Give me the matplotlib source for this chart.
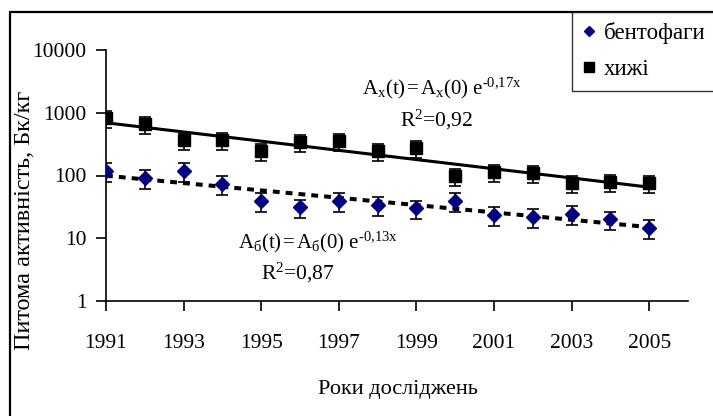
import numpy as np
import matplotlib
matplotlib.use("Agg")
import matplotlib.pyplot as plt
from matplotlib.lines import Line2D
from matplotlib.patches import Rectangle

plt.rcParams['font.family'] = ['Liberation Serif', 'DejaVu Serif']
plt.rcParams['mathtext.fontset'] = 'custom'
plt.rcParams['mathtext.rm'] = 'Liberation Serif'
plt.rcParams['mathtext.it'] = 'Liberation Serif:italic'

# data
years = np.arange(1991, 2006)
bentofagy = [118, 91, 118, 73, 39, 31, 39, 34, 30, 39, 23.5, 22, 24.5, 20, 14.5]
khyzhi = [825, 665, 368, 368, 245, 340, 350, 245, 275, 98, 114, 109, 76, 79, 76]
err_bentofagy = 0.33   # relative error bars
err_khyzhi = 0.30
legend_labels = ['бентофаги', 'хижі']
xticks = [1991, 1993, 1995, 1997, 1999, 2001, 2003, 2005]
yticks = [1, 10, 100, 1000, 10000]

fig = plt.figure(figsize=(7.13, 4.16), dpi=100)
ax = fig.add_axes([106 / 713, 1 - 301 / 416, (688 - 106) / 713, (301 - 50) / 416])

b = np.array(bentofagy)
k = np.array(khyzhi)

ax.errorbar(years, k, yerr=err_khyzhi * k, fmt='s', color='black', ms=8,
            ecolor='black', elinewidth=1.2, capsize=4.5, capthick=1.2, zorder=4)
ax.errorbar(years, b, yerr=err_bentofagy * b, fmt='D', color='#000080', ms=7,
            ecolor='black', elinewidth=1.2, capsize=4.5, capthick=1.2, zorder=4)

# exponential trend lines fitted to the data
t = years - 1990
for vals, ls, lw in [(k, '-', 2.2), (b, (0, (1.7, 1.5)), 2.9)]:
    slope, icpt = np.polyfit(t, np.log(vals), 1)
    ax.plot(years, np.exp(icpt + slope * t), color='black', lw=lw,
            linestyle=ls, zorder=3)

ax.set_yscale('log')
ax.set_ylim(1, 10000)
ax.set_xlim(1991, 2006)
ax.set_xticks(xticks)
ax.set_xticklabels([str(x) for x in xticks])
ax.set_yticks(yticks)
ax.set_yticklabels([str(y) for y in yticks])
ax.minorticks_off()
ax.tick_params(axis='both', direction='out', length=7, width=1.2, labelsize=15.5)
ax.tick_params(axis='x', pad=17)
ax.tick_params(axis='y', pad=7)
for s in ['top', 'right']:
    ax.spines[s].set_visible(False)
for s in ['left', 'bottom']:
    ax.spines[s].set_linewidth(1.2)

ax.set_ylabel('Питома активність, Бк/кг', fontsize=17.5)
ax.yaxis.set_label_coords(-0.122, 0.32)
ax.set_xlabel('Роки досліджень', fontsize=16)
ax.xaxis.set_label_coords(0.5009, -0.315)

hs = '\u200a'
fig.text(362 / 713, 1 - 88 / 416,
         r'A$_\mathregular{x}$(t)' + hs + '=' + hs +
         r'A$_\mathregular{x}$(0) e$^{\text{-0,17x}}$',
         fontsize=15, ha='left', va='center')
fig.text(437 / 713, 1 - 120 / 416, r'R$^\mathregular{2}$=0,92',
         fontsize=15.5, ha='center', va='center')
fig.text(238 / 713, 1 - 242 / 416,
         r'A$_\mathregular{б}$(t)' + hs + '=' + hs +
         r'A$_\mathregular{б}$(0) e$^{\text{-0,13x}}$',
         fontsize=15, ha='left', va='center')
fig.text(298 / 713, 1 - 273 / 416, r'R$^\mathregular{2}$=0,87',
         fontsize=15.5, ha='center', va='center')

handles = [Line2D([], [], marker='D', color='#000080', ls='none', ms=5.5),
           Line2D([], [], marker='s', color='black', ls='none', ms=7.5)]
leg = fig.legend(handles, legend_labels, loc='upper left',
                 bbox_to_anchor=(572 / 713, 1 - 12 / 416),
                 prop={'family': ['Liberation Serif'], 'size': 16.5},
                 frameon=True, fancybox=False, edgecolor='black',
                 borderpad=0.45, labelspacing=0.65, handlelength=0.6,
                 handletextpad=0.35, borderaxespad=0)
leg.get_frame().set_linewidth(1.0)

# outer chart frame (only left and top edges are inside the image)
fig.patches.append(Rectangle((10 / 713, -0.2), 1.5, 1.2 - 12 / 416,
                             transform=fig.transFigure, fill=False,
                             edgecolor='black', lw=1.6))

fig.savefig('out.png', dpi=100)
